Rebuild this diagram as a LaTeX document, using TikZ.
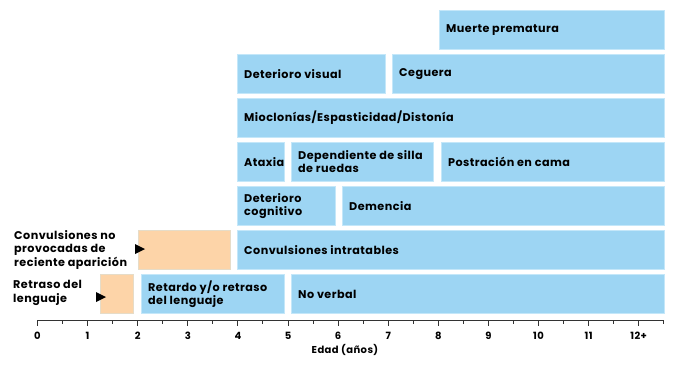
\documentclass[tikz,border=0pt]{standalone}
\usepackage{fontspec}
\setmainfont{Poppins}
\newfontfamily\fut[LetterSpace=4]{Poppins}
\definecolor{boxblue}{HTML}{9DD5F3}
\definecolor{boxedge}{HTML}{C4E7F9}
\definecolor{boxorange}{HTML}{FDD4A8}
\begin{document}
\begin{tikzpicture}[x=1pt,y=-1pt,
  bx/.style={draw=boxedge,line width=0.8pt,fill=boxblue,anchor=north west,inner sep=0pt},
  bxt/.style={font=\fut\bfseries\fontsize{11.2}{12.7}\selectfont,align=left,anchor=west,inner sep=0pt},
  ob/.style={draw=boxedge!40!boxorange,line width=0.8pt,fill=boxorange,anchor=north west,inner sep=0pt},
  lbl/.style={font=\fut\bfseries\fontsize{11.2}{13.6}\selectfont,align=left,anchor=north west,inner sep=0pt},
  tick/.style={font=\fut\bfseries\fontsize{10}{11}\selectfont,anchor=center,inner sep=0pt},
  axis/.style={line width=1pt,draw=black!80}]
\useasboundingbox (0,0) rectangle (674,365);
\newcommand{\mybox}[6]{% name, x1, y1, x2, y2, text
  \node[bx,minimum width={#4-#2},minimum height={#5-#3}] (#1) at (#2,#3) {};
  \node[bxt] (#1-t) at ([xshift=7pt]#1.west) {#6};}
\mybox{muerte}{439}{10}{664}{49}{Muerte prematura}
\mybox{detvis}{237}{54}{385}{93}{Deterioro visual}
\mybox{ceguera}{392}{54}{664}{93}{Ceguera}
\mybox{mioc}{237}{98}{664}{137}{Mioclonías/Espasticidad/Distonía}
\mybox{ataxia}{237}{142}{284}{181}{Ataxia}
\mybox{silla}{291}{142}{433}{181}{Dependiente de silla\\de ruedas}
\mybox{postr}{441}{142}{664}{181}{Postración en cama}
\mybox{detcog}{237}{186}{335}{225}{Deterioro\\cognitivo}
\mybox{demencia}{342}{186}{664}{225}{Demencia}
\mybox{intrat}{237}{230}{664}{269}{Convulsiones intratables}
\mybox{retardo}{141}{274}{284}{313}{Retardo y/o retraso\\del lenguaje}
\mybox{noverbal}{291}{274}{664}{313}{No verbal}
\node[ob,minimum width=92pt,minimum height=39pt] (oconv) at (138,230) {};
\node[ob,minimum width=33pt,minimum height=39pt] (oret) at (100,274) {};
% left labels
\node[lbl] (lconv) at (14,230) {Convulsiones no\\provocadas de\\reciente aparición};
\node[lbl] (lret) at (13,280) {Retraso del\\lenguaje};
% arrowheads
\fill[black] (135,244) -- (145,249) -- (135,254) -- cycle;
\fill[black] (96,292) -- (106,297) -- (96,302) -- cycle;
% axis
\draw[axis] (37.5,320) -- (664,320);
\foreach \i in {0,...,12} {
  \draw[axis] ({37.5+50.1*\i},320) -- ({37.5+50.1*\i},326);
  \draw[axis] ({37.5+50.1*(\i+0.5)},320) -- ({37.5+50.1*(\i+0.5)},323.5);
}
\foreach \i in {0,...,11} {
  \node[tick] (t\i) at ({37.5+50.1*\i},336) {\i};
}
\node[tick] (t12) at ({37.5+50.1*12},336) {12+};
\node[tick] (edad) at (345,350) {Edad (años)};
\end{tikzpicture}
\end{document}
